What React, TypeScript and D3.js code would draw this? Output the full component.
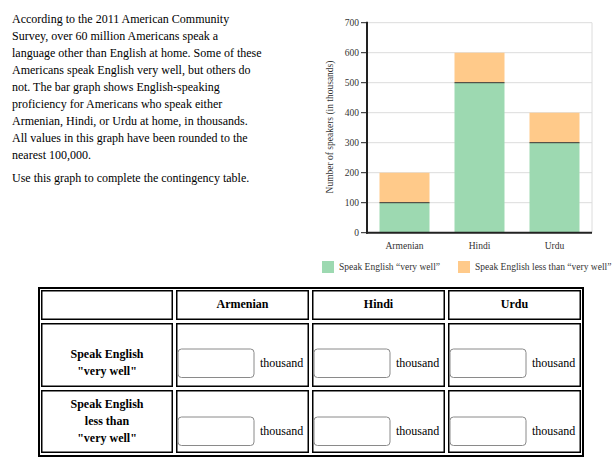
import React from "react";
import * as d3 from "d3";

const categories = ["Armenian", "Hindi", "Urdu"];
const veryWell = [100, 500, 300];
const lessThanVeryWell = [100, 100, 100];
const yTicks = [0, 100, 200, 300, 400, 500, 600, 700];
const seriesNames = ["Speak English \u201cvery well\u201d", "Speak English less than \u201cvery well\u201d"];
const seriesColors = ["#9dd9b1", "#ffca8a"];
const rowLabels = [["Speak English", "\"very well\""], ["Speak English", "less than", "\"very well\""]];
const paragraph = [
  "According to the 2011 American Community",
  "Survey, over 60 million Americans speak a",
  "language other than English at home. Some of these",
  "Americans speak English very well, but others do",
  "not. The bar graph shows English-speaking",
  "proficiency for Americans who speak either",
  "Armenian, Hindi, or Urdu at home, in thousands.",
  "All values in this graph have been rounded to the",
  "nearest 100,000.",
];
const instruction = "Use this graph to complete the contingency table.";

const FONT = "'Liberation Serif', 'Times New Roman', serif";

export default function App() {
  const plotL = 367, plotR = 592, plotT = 22.7, plotB = 232.7;
  const x = d3.scaleBand<string>().domain(categories).range([plotL, plotR]).paddingInner(1 / 3).paddingOuter(1 / 6);
  const y = d3.scaleLinear().domain([0, 700]).range([plotB, plotT]);
  const table = categories.map((c, i) => ({ cat: c, very: veryWell[i], less: lessThanVeryWell[i] }));
  const stack = d3.stack<any>().keys(["very", "less"])(table);

  // table layout
  const colX = [[41, 173], [176, 309], [312, 445], [448, 581]];
  const rowY = [[290, 320], [323, 387], [390, 453]];

  return (
    <svg width={615} height={467} style={{ position: "absolute", left: 0, top: 0, fontFamily: FONT }}>
      <rect width={615} height={467} fill="#fff" />
      {/* paragraph */}
      <g fontSize={12} fill="#000">
        {paragraph.map((l, i) => (
          <text key={i} x={12} y={22.5 + i * 17}>{l}</text>
        ))}
        <text x={12} y={182}>{instruction}</text>
      </g>
      {/* gridlines */}
      <g>
        {yTicks.map((t) => (
          <line key={t} x1={plotL} x2={plotR} y1={y(t)} y2={y(t)} stroke="#dcdcdc" strokeWidth={1} />
        ))}
        <line x1={plotR} x2={plotR} y1={plotT} y2={plotB} stroke="#dcdcdc" />
      </g>
      {/* bars */}
      {stack.map((s, si) => (
        <g key={si}>
          {s.map((d: any, i: number) => (
            <rect key={i} x={x(categories[i])} width={x.bandwidth()} y={y(d[1])} height={y(d[0]) - y(d[1])} fill={seriesColors[si]} />
          ))}
        </g>
      ))}
      {stack[0].map((d: any, i: number) => (
        <line key={i} x1={x(categories[i])} x2={(x(categories[i]) as number) + x.bandwidth()} y1={y(d[1])} y2={y(d[1])} stroke="#333" strokeWidth={1} />
      ))}
      {/* axes */}
      <line x1={plotL} x2={plotL} y1={plotT - 1} y2={plotB + 1} stroke="#222" strokeWidth={2} />
      <line x1={plotL - 1} x2={plotR} y1={plotB} y2={plotB} stroke="#222" strokeWidth={2} />
      <g fontSize={9.5} fill="#333">
        {yTicks.map((t) => (
          <g key={t}>
            <line x1={plotL - 6} x2={plotL} y1={y(t)} y2={y(t)} stroke="#222" />
            <text x={plotL - 8} y={y(t)} dy="0.33em" textAnchor="end">{t}</text>
          </g>
        ))}
        {categories.map((c) => (
          <text key={c} x={(x(c) as number) + x.bandwidth() / 2} y={249} textAnchor="middle">{c}</text>
        ))}
        <text transform={`translate(333,127) rotate(-90)`} textAnchor="middle">Number of speakers (in thousands)</text>
      </g>
      {/* legend */}
      <g fontSize={9.5} fill="#333">
        <rect x={322} y={261} width={12} height={12} fill={seriesColors[0]} />
        <text x={339} y={270}>{seriesNames[0]}</text>
        <rect x={458} y={261} width={12} height={12} fill={seriesColors[1]} />
        <text x={475} y={270}>{seriesNames[1]}</text>
      </g>
      {/* table */}
      <rect x={39} y={288} width={544} height={168} fill="none" stroke="#000" strokeWidth={2} />
      {rowY.map((r, ri) =>
        colX.map((c, ci) => (
          <rect key={`${ri}-${ci}`} x={c[0] + 0.75} y={r[0] + 0.75} width={c[1] - c[0] - 1.5} height={r[1] - r[0] - 1.5} fill="none" stroke="#000" strokeWidth={1.5} />
        ))
      )}
      <g fontSize={12} fontWeight="bold" fill="#000" textAnchor="middle">
        {categories.map((c, i) => (
          <text key={c} x={(colX[i + 1][0] + colX[i + 1][1]) / 2} y={308}>{c}</text>
        ))}
        {rowLabels[0].map((l, i) => (
          <text key={i} x={107} y={357.5 + i * 17}>{l}</text>
        ))}
        {rowLabels[1].map((l, i) => (
          <text key={i} x={107} y={408 + i * 17}>{l}</text>
        ))}
      </g>
      {[0, 1].map((ri) =>
        categories.map((c, ci) => {
          const cx = colX[ci + 1][0];
          const iy = ri === 0 ? 349 : 417;
          return (
            <g key={`${ri}-${ci}`}>
              <rect x={cx + 2} y={iy} width={76} height={28.5} rx={3.5} fill="#fff" stroke="#8a8a8a" strokeWidth={1} />
              <text x={cx + 84} y={iy + 18} fontSize={12} fill="#000">thousand</text>
            </g>
          );
        })
      )}
    </svg>
  );
}
